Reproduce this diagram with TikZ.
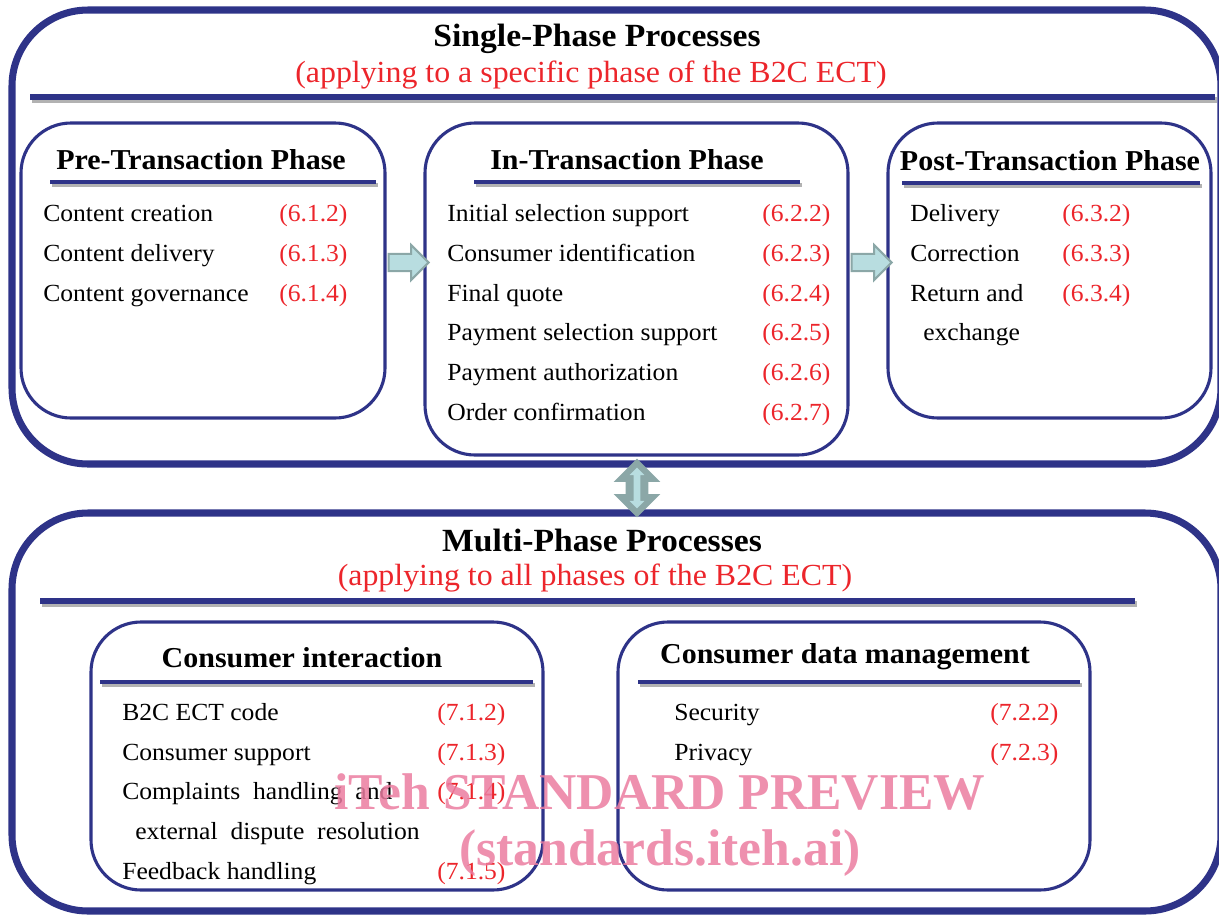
\documentclass[tikz,border=0pt]{standalone}
\usepackage{fontspec}
\setmainfont{Liberation Serif}[FakeStretch=1.04]
\newfontfamily\markfont{Liberation Serif}
\usepackage{tikz}
\usetikzlibrary{positioning,
                calc,
                fit,
                shapes.arrows}
\definecolor{framenavy}{HTML}{2E3388}
\definecolor{refred}{HTML}{EC252B}
\definecolor{arrowfill}{HTML}{B8DDE0}
\definecolor{arrowedge}{HTML}{8BA7A7}
\definecolor{markpink}{HTML}{EB7CA0}

\begin{document}
\begin{tikzpicture}[x=0.025cm,y=-0.025cm]

\tikzset{
groupbox/.style={
draw=framenavy,
line width=5pt,
rounded corners=1.9cm,
inner sep=0pt
},
phasebox/.style={
draw=framenavy,
line width=2.2pt,
rounded corners=1.25cm,
inner sep=0pt
},
rulebar/.style={
draw=framenavy,
line width=#1,
preaction={draw=black!30,line width=#1,
transform canvas={shift={(1.5,3)}}}
},
grouptitle/.style={
font=\fontsize{23}{27}\selectfont\bfseries
},
groupsub/.style={
text=refred,
font=\fontsize{21.8}{26}\selectfont
},
phasetitle/.style={
font=\fontsize{20.5}{24}\selectfont\bfseries
},
itemtext/.style={
anchor=west,
inner sep=0pt,
yshift=-0.12cm,
text height=1.6ex,
text depth=0.4ex,
font=\fontsize{17.5}{21}\selectfont
},
reftext/.style={
itemtext,
text=refred
},
sidearrow/.style={
single arrow,
anchor=tail,
draw=arrowedge,
line width=1.5pt,
fill=arrowfill,
inner sep=0.19cm,
single arrow head extend=0.22cm,
minimum height=1cm
},
updown/.style={
double arrow,
shape border rotate=90,
fill=#1,
inner sep=0.275cm,
double arrow head extend=0.3cm,
minimum height=1.47cm
},
watermark/.style={
text=markpink,
opacity=0.85,
font=\markfont\fontsize{36.7}{40}\selectfont\bfseries
}
}

\useasboundingbox (0,0) rectangle (1219,916);

%--------------------------------------------------
% SINGLE-PHASE GROUP
%--------------------------------------------------

\node[groupbox,fit={(12,10) (1221,464)}] (single) {};

\node[grouptitle] (singletitle) at (597,39)
{Single-Phase Processes};
\node[groupsub] (singlesub) at (591,75)
{(applying to a specific phase of the B2C ECT)};
\draw[rulebar=4.3pt] (30,97) -- (1215,97);

%--------------------------------------------------
% PRE-TRANSACTION
%--------------------------------------------------

\node[phasebox,fit={(21,123) (385,418)}] (pre) {};
\node[phasetitle] (pretitle) at (201,160)
{Pre-Transaction Phase};
\draw[rulebar=3.5pt] (50,182) -- (376,182);

\node[itemtext] (pre1) at (43,213) {Content creation};
\node[reftext] (pre1ref) at (279,213) {(6.1.2)};
\node[itemtext] (pre2) at (43,253) {Content delivery};
\node[reftext] (pre2ref) at (279,253) {(6.1.3)};
\node[itemtext] (pre3) at (43,293) {Content governance};
\node[reftext] (pre3ref) at (279,293) {(6.1.4)};

%--------------------------------------------------
% IN-TRANSACTION
%--------------------------------------------------

\node[phasebox,fit={(425,123) (848,455)}] (in) {};
\node[phasetitle] (intitle) at (627,160)
{In-Transaction Phase};
\draw[rulebar=3.5pt] (474,182) -- (800,182);

\node[itemtext] (in1) at (447,213) {Initial selection support};
\node[reftext] (in1ref) at (762,213) {(6.2.2)};
\node[itemtext] (in2) at (447,253) {Consumer identification};
\node[reftext] (in2ref) at (762,253) {(6.2.3)};
\node[itemtext] (in3) at (447,293) {Final quote};
\node[reftext] (in3ref) at (762,293) {(6.2.4)};
\node[itemtext] (in4) at (447,332) {Payment selection support};
\node[reftext] (in4ref) at (762,332) {(6.2.5)};
\node[itemtext] (in5) at (447,372) {Payment authorization};
\node[reftext] (in5ref) at (762,372) {(6.2.6)};
\node[itemtext] (in6) at (447,412) {Order confirmation};
\node[reftext] (in6ref) at (762,412) {(6.2.7)};

%--------------------------------------------------
% POST-TRANSACTION
%--------------------------------------------------

\node[phasebox,fit={(888,123) (1211,418)}] (post) {};
\node[phasetitle] (posttitle) at (1050,161)
{Post-Transaction Phase};
\draw[rulebar=3.5pt] (902,183) -- (1200,183);

\node[itemtext] (post1) at (910,213) {Delivery};
\node[reftext] (post1ref) at (1062,213) {(6.3.2)};
\node[itemtext] (post2) at (910,253) {Correction};
\node[reftext] (post2ref) at (1062,253) {(6.3.3)};
\node[itemtext] (post3) at (910,293) {Return and};
\node[reftext] (post3ref) at (1062,293) {(6.3.4)};
\node[itemtext] (post3b) at (923,332) {exchange};

% arrows between the phases
\node[sidearrow] (preToIn) at ($(pre.east)+(1,-8)$) {};
\node[sidearrow] (inToPost) at ($(in.east |- pre.east)+(1,-8)$) {};

%--------------------------------------------------
% MULTI-PHASE GROUP
%--------------------------------------------------

\node[groupbox,fit={(12,513) (1221,911)}] (multi) {};

\node[updown=arrowedge] (link) at (637,488) {};
\node[updown=arrowfill,inner sep=0.08cm,double arrow head extend=0.1cm,
minimum height=1.02cm] (linkcore) at (link.center) {};

\node[grouptitle] (multititle) at (602,540)
{Multi-Phase Processes};
\node[groupsub] (multisub) at (595,578)
{(applying to all phases of the B2C ECT)};
\draw[rulebar=4.3pt] (40,601) -- (1135,601);

%--------------------------------------------------
% CONSUMER INTERACTION
%--------------------------------------------------

\node[phasebox,fit={(91,622) (543,890)}] (interact) {};
\node[phasetitle] (interacttitle) at (302,658)
{Consumer interaction};
\draw[rulebar=3.5pt] (100,682) -- (533,682);

\node[itemtext] (ci1) at (122,712) {B2C ECT code};
\node[reftext] (ci1ref) at (437,712) {(7.1.2)};
\node[itemtext] (ci2) at (122,752) {Consumer support};
\node[reftext] (ci2ref) at (437,752) {(7.1.3)};
\node[itemtext] (ci3) at (122,791) {Complaints\ \ handling\ \ and};
\node[reftext] (ci3ref) at (437,791) {(7.1.4)};
\node[itemtext] (ci3b) at (135,831) {external\ \ dispute\ \ resolution};
\node[itemtext] (ci4) at (122,871) {Feedback handling};
\node[reftext] (ci4ref) at (437,871) {(7.1.5)};

%--------------------------------------------------
% CONSUMER DATA MANAGEMENT
%--------------------------------------------------

\node[phasebox,fit={(618,622) (1090,890)}] (data) {};
\node[phasetitle] (datatitle) at (845,657)
{Consumer data management};
\draw[rulebar=3.5pt] (638,682) -- (1080,682);

\node[itemtext] (cd1) at (674,712) {Security};
\node[reftext] (cd1ref) at (990,712) {(7.2.2)};
\node[itemtext] (cd2) at (674,752) {Privacy};
\node[reftext] (cd2ref) at (990,752) {(7.2.3)};

%--------------------------------------------------
% OVERPRINT
%--------------------------------------------------

\node[watermark] (mark1) at (660,792) {iTeh STANDARD PREVIEW};
\node[watermark] (mark2) at (660,853) {(standards.iteh.ai)};

\end{tikzpicture}
\end{document}
